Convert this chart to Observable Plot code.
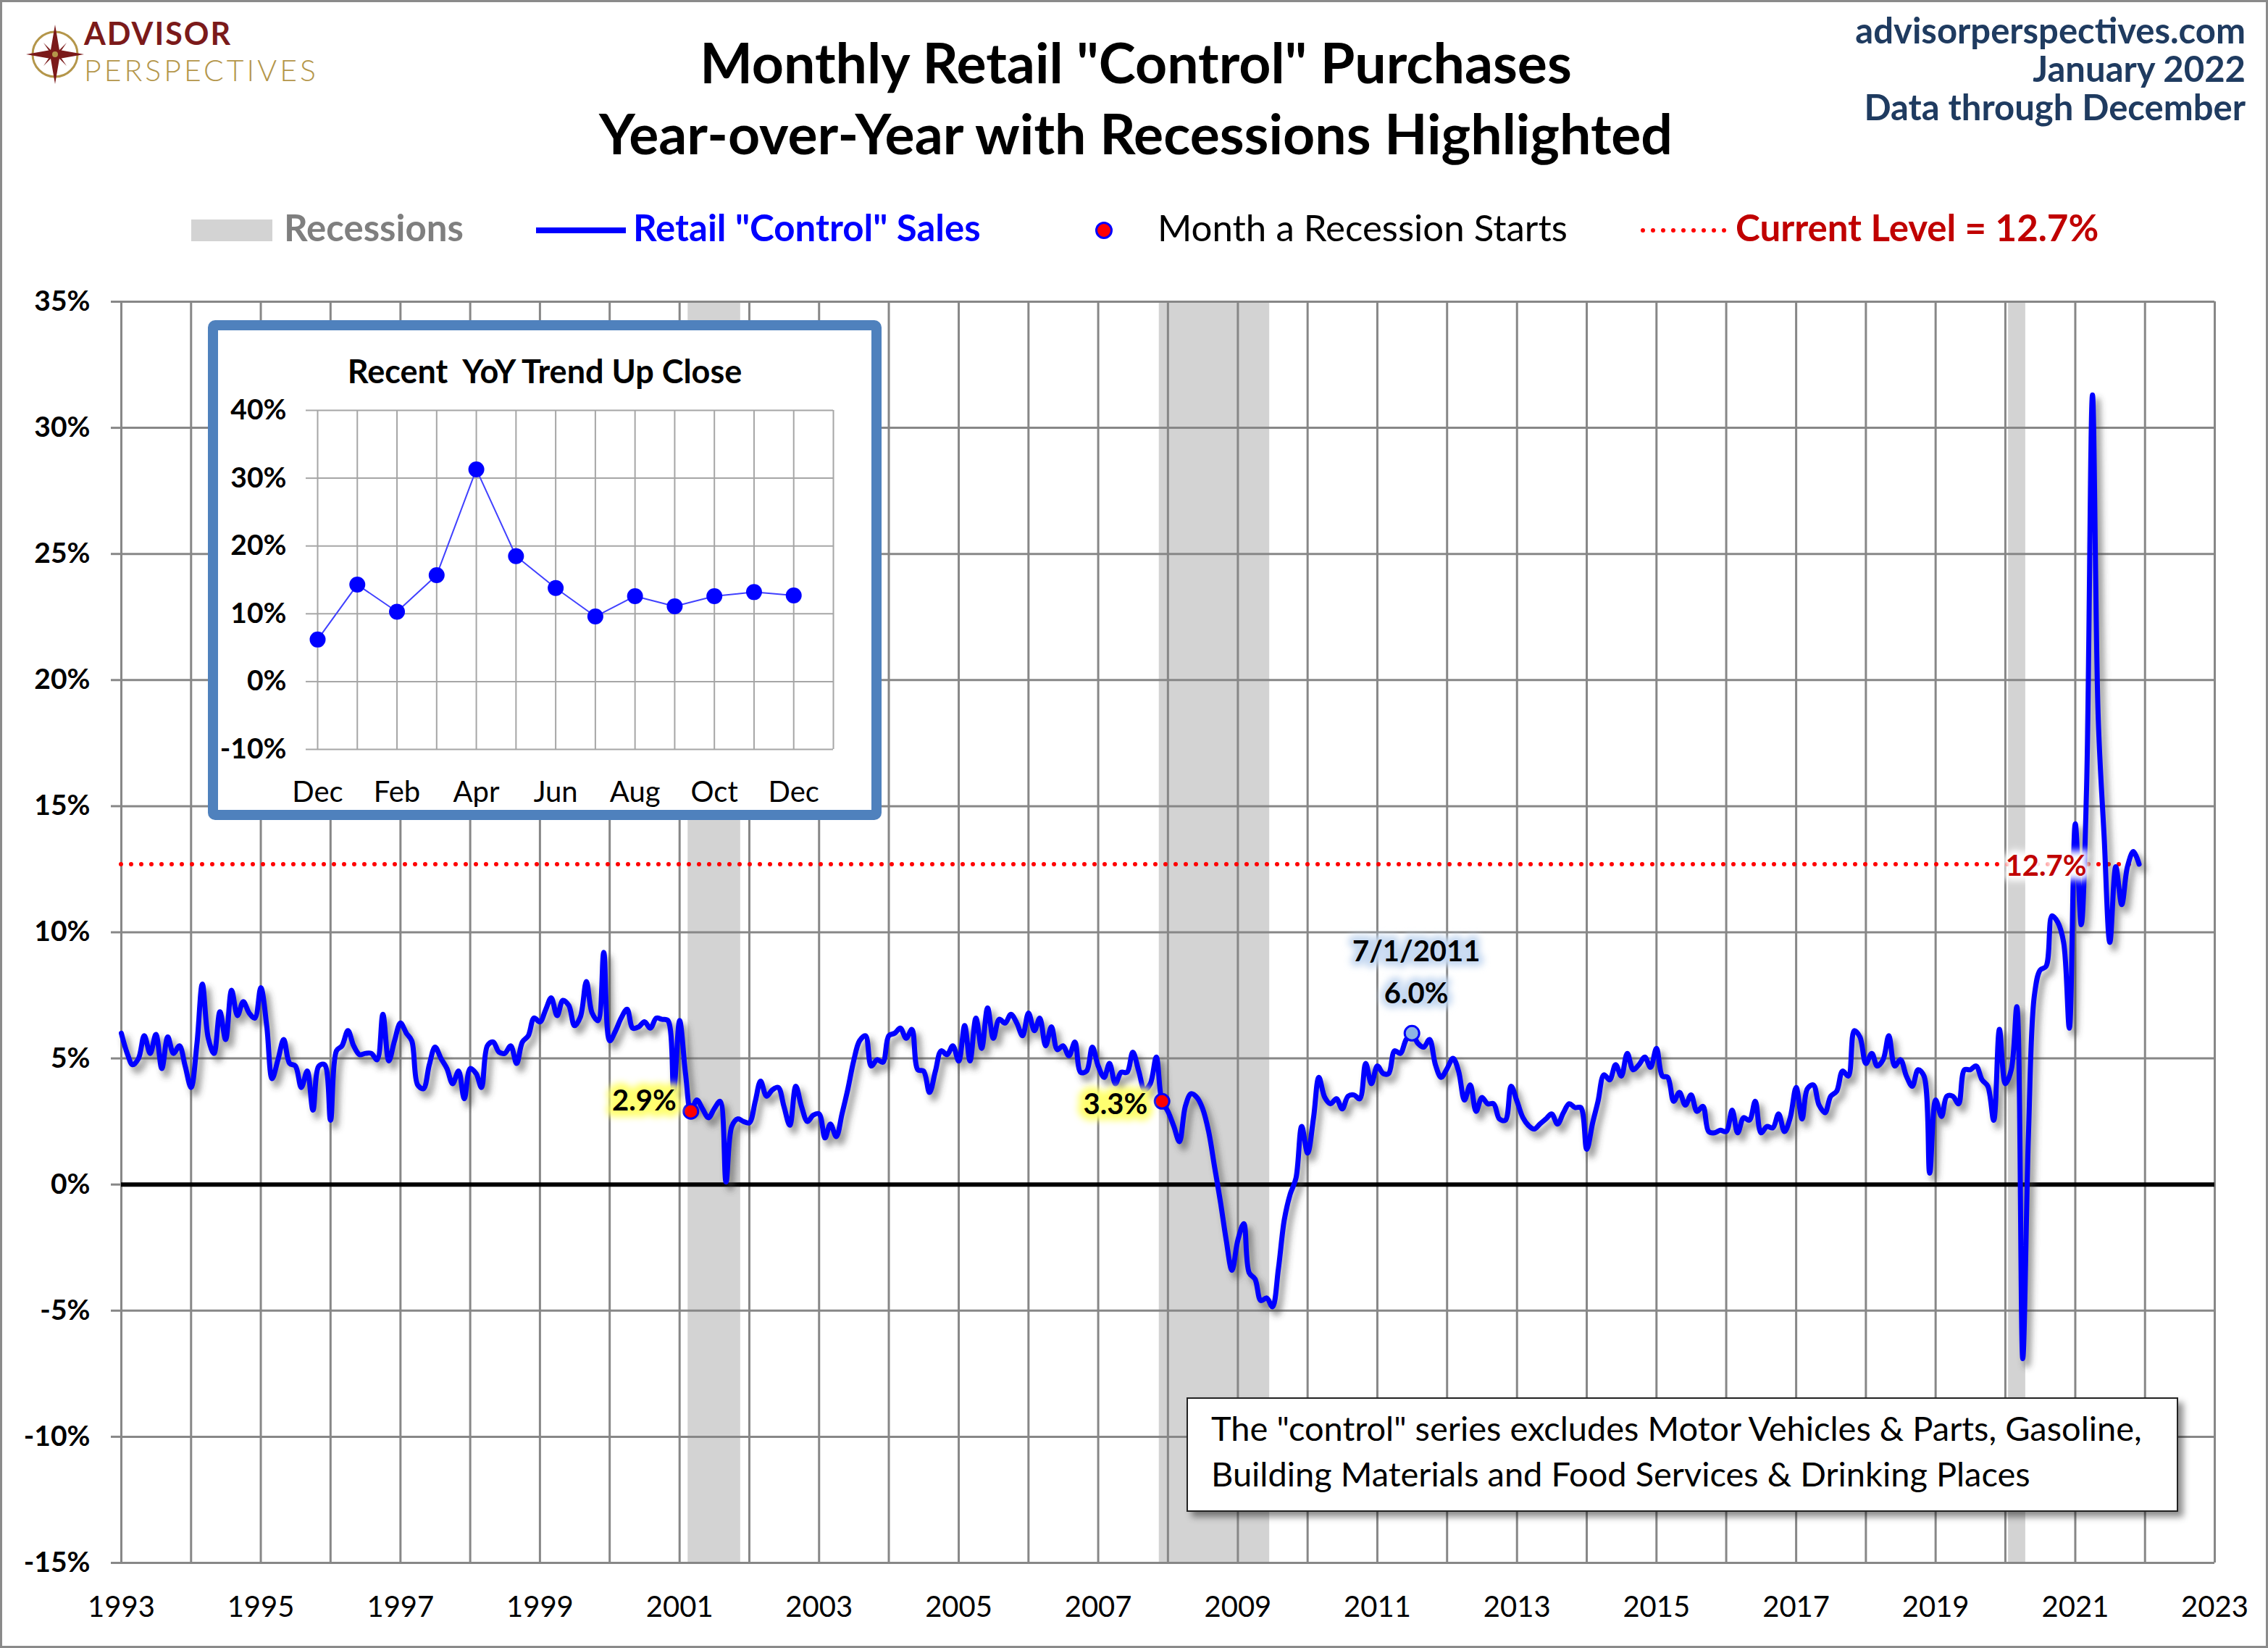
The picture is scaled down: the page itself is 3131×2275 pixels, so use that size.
<!DOCTYPE html>
<html>
<head>
<meta charset="utf-8">
<script src="https://cdn.jsdelivr.net/npm/d3@7"></script>
<script src="https://cdn.jsdelivr.net/npm/@observablehq/plot@0.6"></script>
<style>
  html, body { margin: 0; padding: 0; background: #fff; }
  #chart { position: relative; width: 3131px; height: 2275px; overflow: hidden; background: #fff;
           font-family: Lato, "Open Sans", "DejaVu Sans", sans-serif; }
  .abs { position: absolute; white-space: pre; line-height: 1; }
  #frame { position: absolute; left: 0; top: 0; width: 3131px; height: 2275px; box-sizing: border-box;
           border: 3px solid #8a8a8a; pointer-events: none; z-index: 20; }
  #mainPlot { position: absolute; left: 0; top: 380px; z-index: 1; }
  #inset { position: absolute; left: 287px; top: 442px; width: 930px; height: 690px; box-sizing: border-box;
           border: 14px solid #4F81BD; border-radius: 10px; background: #fff; z-index: 5; }
  #insetPlot { position: absolute; left: 0; top: 84px; }
  #note { position: absolute; left: 1638px; top: 1929px; width: 1369px; height: 158px; box-sizing: border-box;
          border: 2px solid #222; background: #fff; box-shadow: 7px 7px 9px rgba(0,0,0,0.45);
          padding: 9px 0 0 32px; font-size: 47px; line-height: 63px; color: #000; z-index: 5; white-space: pre; }
</style>
</head>
<body>
<div id="chart">
  <!-- logo -->
  <svg class="abs" style="left:36px;top:34px" width="80" height="82" viewBox="0 0 80 82">
    <circle cx="40" cy="41" r="31" fill="none" stroke="#b4964a" stroke-width="3"/>
    <polygon points="40,0 46,35 80,41 46,47 40,82 34,47 0,41 34,35" fill="#7b1a1a"/>
    <polygon points="40,41 56,25 45,41 56,57 40,41 24,57 35,41 24,25" fill="#7b1a1a"/>
    <circle cx="40" cy="41" r="4" fill="#b4964a"/>
  </svg>
  <div class="abs" style="left:116px;top:20px;line-height:1.2;font-size:43px;font-weight:700;color:#7b1a1a;letter-spacing:2px">ADVISOR</div>
  <div class="abs" style="left:116px;top:72px;line-height:1.2;font-size:41px;font-weight:300;color:#b4964a;letter-spacing:4px">PERSPECTIVES</div>

  <!-- title -->
  <div class="abs" style="left:0;width:3136px;text-align:center;top:47px;font-size:77px;font-weight:700;color:#000">Monthly Retail "Control" Purchases</div>
  <div class="abs" style="left:0;width:3136px;text-align:center;top:145px;font-size:77px;font-weight:700;color:#000">Year-over-Year with Recessions Highlighted</div>

  <!-- top right -->
  <div class="abs" style="right:31px;top:17px;font-size:49px;font-weight:700;color:#1f3b60;text-align:right">advisorperspectives.com</div>
  <div class="abs" style="right:31px;top:70px;font-size:49px;font-weight:700;color:#1f3b60;text-align:right">January 2022</div>
  <div class="abs" style="right:31px;top:123px;font-size:49px;font-weight:700;color:#1f3b60;text-align:right">Data through December</div>

  <!-- legend -->
  <div class="abs" style="left:264px;top:303px;width:112px;height:30px;background:#d3d3d3"></div>
  <div class="abs" style="left:392px;top:288px;font-size:51px;font-weight:700;color:#7f7f7f">Recessions</div>
  <div class="abs" style="left:740px;top:314px;width:124px;height:8px;background:#0000ff"></div>
  <div class="abs" style="left:874px;top:288px;font-size:51px;font-weight:700;color:#0000ff">Retail "Control" Sales</div>
  <div class="abs" style="left:1512px;top:306px;width:24px;height:24px;box-sizing:border-box;border-radius:50%;background:#ff0000;border:3px solid #0000ff"></div>
  <div class="abs" style="left:1598px;top:288px;font-size:51px;font-weight:400;color:#000">Month a Recession Starts</div>
  <svg class="abs" style="left:2264px;top:308px" width="124" height="20"><line x1="4" y1="10" x2="118" y2="10" stroke="#ff0000" stroke-width="6" stroke-linecap="round" stroke-dasharray="0 14"/></svg>
  <div class="abs" style="left:2396px;top:288px;font-size:51px;font-weight:700;color:#c00000">Current Level = 12.7%</div>

  <div id="mainPlot"></div>

  <div id="inset">
    <div class="abs" style="left:0;width:902px;text-align:center;top:34px;font-size:45px;font-weight:700;color:#000">Recent  YoY Trend Up Close</div>
    <div id="insetPlot"></div>
  </div>

  <div id="note">The "control" series excludes Motor Vehicles &amp; Parts, Gasoline,
Building Materials and Food Services &amp; Drinking Places</div>

  <div id="frame"></div>
</div>

<script>
// ---------------- DATA ----------------
// Retail "control" sales, year-over-year %, monthly, starting January 1993
const seriesStart = "1993-01";
const yoy1993to1999 = [
  6.0, 5.2, 4.75, 5.0, 5.9, 5.2, 5.95, 4.6, 5.85, 5.2, 5.5, 4.7,
  3.85, 5.6, 7.95, 5.8, 5.2, 6.85, 5.75, 7.7, 6.7, 7.25, 6.8, 6.6,
  7.8, 6.3, 4.2, 4.95, 5.75, 4.8, 4.7, 3.85, 4.5, 2.95, 4.7, 4.75,
  2.55, 5.3, 5.5, 6.1, 5.5, 5.15, 5.2, 5.2, 4.95, 6.75, 4.9, 5.7,
  6.4, 6.0, 5.7, 3.95, 3.8, 4.75, 5.45, 5.0, 4.6, 4.0, 4.5, 3.4,
  4.6, 4.4, 3.85, 5.5, 5.65, 5.25, 5.2, 5.5, 4.8, 5.65, 5.9, 6.6,
  6.45, 6.95, 7.4, 6.7, 7.3, 7.1, 6.3, 6.65, 8.05, 6.8, 6.5, 9.2
];
const yoy2000to2009 = [
  5.7, 6.1, 6.6, 6.95, 6.2, 6.25, 6.45, 6.2, 6.6, 6.55, 6.5, 3.75,
  6.5, 4.4, 2.9, 3.35, 3.0, 2.65, 3.0, 3.3, 0.1, 2.3, 2.6, 2.5,
  2.45, 3.3, 4.1, 3.5, 3.75, 3.85, 3.1, 2.35, 3.9, 3.1, 2.5, 2.75,
  2.8, 1.85, 2.4, 1.9, 2.8, 3.8, 4.9, 5.7, 5.9, 4.7, 4.95, 4.85,
  5.9, 6.0, 6.2, 5.8, 6.15, 4.55, 4.5, 3.65, 4.5, 5.3, 5.15, 5.5,
  4.9, 6.3, 4.9, 6.6, 5.4, 7.0, 5.8, 6.55, 6.4, 6.75, 6.4, 5.9,
  6.8, 6.1, 6.6, 5.5, 6.25, 5.35, 5.5, 5.1, 5.65, 4.45, 4.5, 5.45,
  4.7, 4.25, 4.8, 4.0, 4.45, 4.45, 5.25, 4.5, 3.75, 4.0, 5.05, 3.3,
  2.9, 2.3, 1.7, 3.1, 3.6, 3.45, 3.0, 2.1, 0.7, -0.65, -2.2, -3.4,
  -2.2, -1.55, -3.5, -3.75, -4.6, -4.5, -4.85, -3.35, -1.4, -0.4, 0.25, 2.3
];
const yoy2010to2019 = [
  1.25, 2.65, 4.25, 3.45, 3.2, 3.4, 3.0, 3.5, 3.55, 3.4, 4.8, 4.0,
  4.7, 4.4, 4.4, 5.3, 5.2, 5.75, 6.0, 5.6, 5.45, 5.75, 4.75, 4.25,
  4.6, 5.0, 4.5, 3.35, 3.95, 2.9, 3.45, 3.2, 3.2, 2.6, 2.55, 3.9,
  3.3, 2.65, 2.35, 2.2, 2.4, 2.6, 2.8, 2.4, 2.85, 3.2, 3.05, 3.05,
  1.4, 2.45, 3.3, 4.35, 4.15, 4.75, 4.3, 5.2, 4.55, 4.75, 5.05, 4.65,
  5.4, 4.3, 4.25, 3.3, 3.65, 3.15, 3.55, 2.9, 3.1, 2.1, 2.05, 2.15,
  2.1, 2.95, 2.05, 2.65, 2.55, 3.3, 2.05, 2.3, 2.25, 2.8, 2.1, 2.65,
  3.85, 2.6, 3.8, 3.95, 3.15, 2.85, 3.5, 3.7, 4.5, 4.3, 6.1, 5.85,
  4.8, 5.2, 4.7, 4.95, 5.9, 4.7, 4.95, 4.3, 3.9, 4.55, 4.3, 0.45,
  3.35, 2.7, 3.5, 3.5, 3.2, 4.55, 4.55, 4.7, 4.15, 3.9, 2.55, 6.15
];
const yoy2020to2021 = [
  4.0, 4.55, 7.05, -6.9, 2.0, 7.5, 8.5, 8.65, 10.65, 10.4, 9.6, 6.2,
  14.3, 10.3, 15.7, 31.3, 18.5, 13.8, 9.6, 12.6, 11.1, 12.6, 13.2, 12.7
];

// recessions (NBER peak and trough months)
const recessionStartMonths = ["2001-03", "2007-12", "2020-02"];
const recessionEndMonths   = ["2001-11", "2009-06", "2020-04"];
// recession starts marked with a red dot and label
const markedStartMonths = ["2001-03", "2007-12"];

// annotations
const peakMonth = "2011-07";
const peakLabel = "7/1/2011";
const currentLevel = 12.7;
const currentLabelMonth = "2021-03";

// axes
const xDomain = ["1993-01", "2023-01"];
const yDomain = [-15, 35];
const yTicks = [-15, -10, -5, 0, 5, 10, 15, 20, 25, 30, 35];
const xLabelYears = [1993, 1995, 1997, 1999, 2001, 2003, 2005, 2007, 2009, 2011, 2013, 2015, 2017, 2019, 2021, 2023];

// inset: recent trend
const insetMonths = ["Dec", "Jan", "Feb", "Mar", "Apr", "May", "Jun", "Jul", "Aug", "Sep", "Oct", "Nov", "Dec"];
const insetValues = [6.2, 14.3, 10.3, 15.7, 31.3, 18.5, 13.8, 9.6, 12.6, 11.1, 12.6, 13.2, 12.7];
const insetYTicks = [-10, 0, 10, 20, 30, 40];

// ---------------- BUILD ----------------
const parseMonth = d3.utcParse("%Y-%m");
const fmtMonth = d3.utcFormat("%Y-%m");
const allValues = [...yoy1993to1999, ...yoy2000to2009, ...yoy2010to2019, ...yoy2020to2021];
const t0 = parseMonth(seriesStart);
const series = allValues.map((value, i) => ({date: d3.utcMonth.offset(t0, i), value}));
const byMonth = new Map(series.map(d => [fmtMonth(d.date), d]));
const recessions = recessionStartMonths.map((s, i) => ({start: parseMonth(s), end: parseMonth(recessionEndMonths[i])}));
const startPoints = markedStartMonths.map(m => byMonth.get(m));
const peak = byMonth.get(peakMonth);
const firstDate = series[0].date, lastDate = series[series.length - 1].date;
const yearGrid = d3.utcYear.range(parseMonth(xDomain[0]), d3.utcDay.offset(parseMonth(xDomain[1]), 1));
const xLabelDates = xLabelYears.map(y => new Date(Date.UTC(y, 0, 1)));

const GRID = "#878787";
const FONT = "Lato, 'Open Sans', sans-serif";

const main = Plot.plot({
  width: 3131, height: 1895,
  marginTop: 36, marginBottom: 118, marginLeft: 167, marginRight: 74,
  style: {fontFamily: FONT, fontSize: "40px", color: "#000", background: "transparent", overflow: "visible"},
  x: {type: "utc", domain: xDomain.map(parseMonth), label: null},
  y: {domain: yDomain, label: null},
  marks: [
    Plot.rect(recessions, {
      x1: d => d3.utcDay.offset(d.start, -15),
      x2: d => d3.utcDay.offset(d.end, 15),
      y1: () => yDomain[0], y2: () => yDomain[1],
      fill: "#d3d3d3"
    }),
    Plot.gridX({ticks: yearGrid, stroke: GRID, strokeOpacity: 1, strokeWidth: 3}),
    Plot.gridY({ticks: yTicks, stroke: GRID, strokeOpacity: 1, strokeWidth: 3}),
    Plot.axisY({ticks: yTicks, tickFormat: d => d + "%", tickSize: 14, tickPadding: 29, label: null,
      stroke: GRID, strokeWidth: 3, fill: "#000", fontWeight: "bold", fontSize: 39}),
    Plot.axisX({ticks: xLabelDates, tickFormat: d3.utcFormat("%Y"), tickSize: 0, tickPadding: 46, label: null,
      fill: "#000", fontSize: 40}),
    Plot.ruleY([0], {stroke: "#000", strokeWidth: 6}),
    Plot.ruleY([currentLevel], {y: d => d, x1: () => firstDate, x2: () => lastDate,
      stroke: "#ff0000", strokeWidth: 6, strokeLinecap: "round", strokeDasharray: "0 14"}),
    // drop shadow of the line
    Plot.line(series, {x: "date", y: "value", curve: "catmull-rom", stroke: "#404040", strokeOpacity: 0.5,
      strokeWidth: 9, dx: 6, dy: 8, strokeLinejoin: "round", ariaDescription: "shadow"}),
    Plot.line(series, {x: "date", y: "value", curve: "catmull-rom", stroke: "#0000ff",
      strokeWidth: 7, strokeLinejoin: "round", strokeLinecap: "round"}),
    Plot.dot(startPoints, {x: "date", y: "value", r: 10, fill: "#ff0000", stroke: "#0000ff", strokeWidth: 3}),
    Plot.dot([peak], {x: "date", y: "value", r: 10, fill: "#8db3e2", stroke: "#0000ff", strokeWidth: 3}),
    // recession start labels (glow + text)
    Plot.text(startPoints.slice(0, 1), {x: "date", y: "value", text: d => d.value.toFixed(1) + "%", textAnchor: "end",
      dx: -20, dy: -14, fontSize: 40, fontWeight: "bold", fill: "#ffff70", stroke: "#ffff70", strokeWidth: 18,
      strokeLinejoin: "round", ariaDescription: "glow"}),
    Plot.text(startPoints.slice(0, 1), {x: "date", y: "value", text: d => d.value.toFixed(1) + "%", textAnchor: "end",
      dx: -20, dy: -14, fontSize: 40, fontWeight: "bold", fill: "#000"}),
    Plot.text(startPoints.slice(1, 2), {x: "date", y: "value", text: d => d.value.toFixed(1) + "%", textAnchor: "end",
      dx: -20, dy: 5, fontSize: 40, fontWeight: "bold", fill: "#ffff70", stroke: "#ffff70", strokeWidth: 18,
      strokeLinejoin: "round", ariaDescription: "glow"}),
    Plot.text(startPoints.slice(1, 2), {x: "date", y: "value", text: d => d.value.toFixed(1) + "%", textAnchor: "end",
      dx: -20, dy: 5, fontSize: 40, fontWeight: "bold", fill: "#000"}),
    // peak label
    Plot.text([peak], {x: "date", y: "value", text: () => peakLabel, dx: 6, dy: -112, fontSize: 40, fontWeight: "bold",
      fill: "#c6d9f1", stroke: "#c6d9f1", strokeWidth: 14, strokeLinejoin: "round", ariaDescription: "glow"}),
    Plot.text([peak], {x: "date", y: "value", text: () => peakLabel, dx: 6, dy: -112, fontSize: 40, fontWeight: "bold", fill: "#000"}),
    Plot.text([peak], {x: "date", y: "value", text: d => d.value.toFixed(1) + "%", dx: 6, dy: -54, fontSize: 40, fontWeight: "bold",
      fill: "#c6d9f1", stroke: "#c6d9f1", strokeWidth: 14, strokeLinejoin: "round", ariaDescription: "glow"}),
    Plot.text([peak], {x: "date", y: "value", text: d => d.value.toFixed(1) + "%", dx: 6, dy: -54, fontSize: 40, fontWeight: "bold", fill: "#000"}),
    // current level label
    Plot.text([currentLevel], {x: () => parseMonth(currentLabelMonth), y: d => d, text: d => d.toFixed(1) + "%",
      textAnchor: "end", dy: 3, fontSize: 40, fontWeight: "bold", fill: "#ffffff", stroke: "#ffffff", strokeWidth: 14,
      strokeLinejoin: "round", ariaDescription: "glow"}),
    Plot.text([currentLevel], {x: () => parseMonth(currentLabelMonth), y: d => d, text: d => d.toFixed(1) + "%",
      textAnchor: "end", dy: 3, fontSize: 40, fontWeight: "bold", fill: "#c00000"})
  ]
});

function addFilters(svg) {
  const ns = "http://www.w3.org/2000/svg";
  const defs = document.createElementNS(ns, "defs");
  defs.innerHTML =
    '<filter id="shadowBlur" x="-5%" y="-20%" width="110%" height="140%"><feGaussianBlur stdDeviation="4"/></filter>' +
    '<filter id="glowBlur" x="-50%" y="-100%" width="200%" height="300%"><feGaussianBlur stdDeviation="5"/></filter>';
  svg.insertBefore(defs, svg.firstChild);
  svg.querySelectorAll('[aria-description="shadow"]').forEach(g => g.setAttribute("filter", "url(#shadowBlur)"));
  svg.querySelectorAll('[aria-description="glow"]').forEach(g => g.setAttribute("filter", "url(#glowBlur)"));
}
addFilters(main);
document.getElementById("mainPlot").appendChild(main);

// ---------------- INSET ----------------
const insetData = insetValues.map((value, i) => ({i, month: insetMonths[i], value}));
const INSET_GRID = "#a6a6a6";
const inset = Plot.plot({
  width: 902, height: 578,
  marginTop: 26, marginBottom: 84, marginLeft: 137, marginRight: 53,
  style: {fontFamily: FONT, fontSize: "40px", color: "#000", background: "transparent", overflow: "visible"},
  x: {domain: [0, insetMonths.length], label: null},
  y: {domain: [insetYTicks[0], insetYTicks[insetYTicks.length - 1]], label: null},
  marks: [
    Plot.gridX({ticks: d3.range(0, insetMonths.length + 1), stroke: INSET_GRID, strokeOpacity: 1, strokeWidth: 2}),
    Plot.gridY({ticks: insetYTicks, stroke: INSET_GRID, strokeOpacity: 1, strokeWidth: 2}),
    Plot.axisY({ticks: insetYTicks, tickFormat: d => d + "%", tickSize: 16, tickPadding: 27, label: null,
      stroke: INSET_GRID, strokeWidth: 2, fill: "#000", fontWeight: "bold", fontSize: 39}),
    Plot.axisX({ticks: d3.range(0, insetMonths.length, 2), tickFormat: i => insetMonths[i], tickSize: 0, tickPadding: 44, label: null,
      fill: "#000", fontSize: 40}),
    Plot.line(insetData, {x: "i", y: "value", stroke: "#4040ff", strokeWidth: 2}),
    Plot.dot(insetData, {x: "i", y: "value", r: 11, fill: "#0000ff", stroke: "none"})
  ]
});
document.getElementById("insetPlot").appendChild(inset);
</script>
</body>
</html>
